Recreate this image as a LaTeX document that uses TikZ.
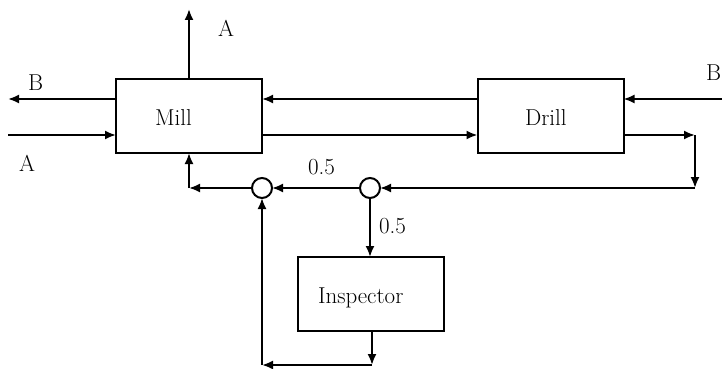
\documentclass[tikz,border=0pt]{standalone}
\usepackage{fontspec}
\usetikzlibrary{arrows.meta}
\begin{document}
\begin{tikzpicture}[x=1pt,y=-1pt,
  every path/.style={line width=2pt},
  flow/.style={-{Latex[length=11pt,width=9pt]}},
  box/.style={draw,line width=2pt,minimum width=146pt,minimum height=74pt,inner sep=0pt,outer sep=0pt},
  junc/.style={draw,circle,line width=2pt,minimum size=20pt,inner sep=0pt,outer sep=0pt,fill=white},
  txt/.style={inner sep=0pt,anchor=base west,font=\addfontfeatures{FakeBold=2.5}\fontsize{23}{27}\selectfont}]
\useasboundingbox (0,0) rectangle (722,369);
% boxes
\node[box] (mill) at (189,116) {};
\node[box] (drill) at (550.5,115.5) {};
\node[box] (insp) at (371,294) {};
\node[txt] (millT) at (154,125) {Mill};
\node[txt] (drillT) at (524,125) {Drill};
\node[txt] (inspT) at (317,303) {Inspector};
% junctions
\node[junc] (c1) at (262,188) {};
\node[junc] (c2) at (370,188) {};
% free ends and corners
\coordinate (aTop) at (189,9);
\coordinate (bL) at (8,99);
\coordinate (aL) at (8,135);
\coordinate (bR) at (722,99);
\coordinate (k1) at (695,135);
\coordinate (k2) at (695,188);
\coordinate (k3) at (372,365);
\coordinate (k4) at (262,365);
\coordinate (k5) at (189,188);
% labels
\node[txt] (lA1) at (217,37) {A};
\node[txt] (lB1) at (27,90) {B};
\node[txt] (lA2) at (18,171) {A};
\node[txt] (lB2) at (705,81) {B};
\node[txt] (l05a) at (307,174) {0.5};
\node[txt] (l05b) at (378,233) {0.5};
% connectors
\draw[flow] (mill.north) -- (aTop);
\draw[flow] (mill.west |- bL) -- (bL);
\draw[flow] (aL) -- (aL -| mill.west);
\draw[flow] (bR) -- (bR -| drill.east);
\draw[flow] (bR -| drill.west) -- (bR -| mill.east);
\draw[flow] (aL -| mill.east) -- (aL -| drill.west);
\draw[flow] (aL -| drill.east) -- (k1);
\draw[flow] (k1) -- (k2);
\draw[flow] (k2) -- (c2.east);
\draw[flow] (c2.west) -- (c1.east);
\draw[flow] (c1.west) -- (k5);
\draw[flow] (k5) -- (mill.south);
\draw[flow] (c2.south) -- (c2 |- insp.north);
\draw[flow] (k3 |- insp.south) -- (k3);
\draw[flow] (k3) -- (k4);
\draw[flow] (k4) -- (c1.south);
\end{tikzpicture}
\end{document}
